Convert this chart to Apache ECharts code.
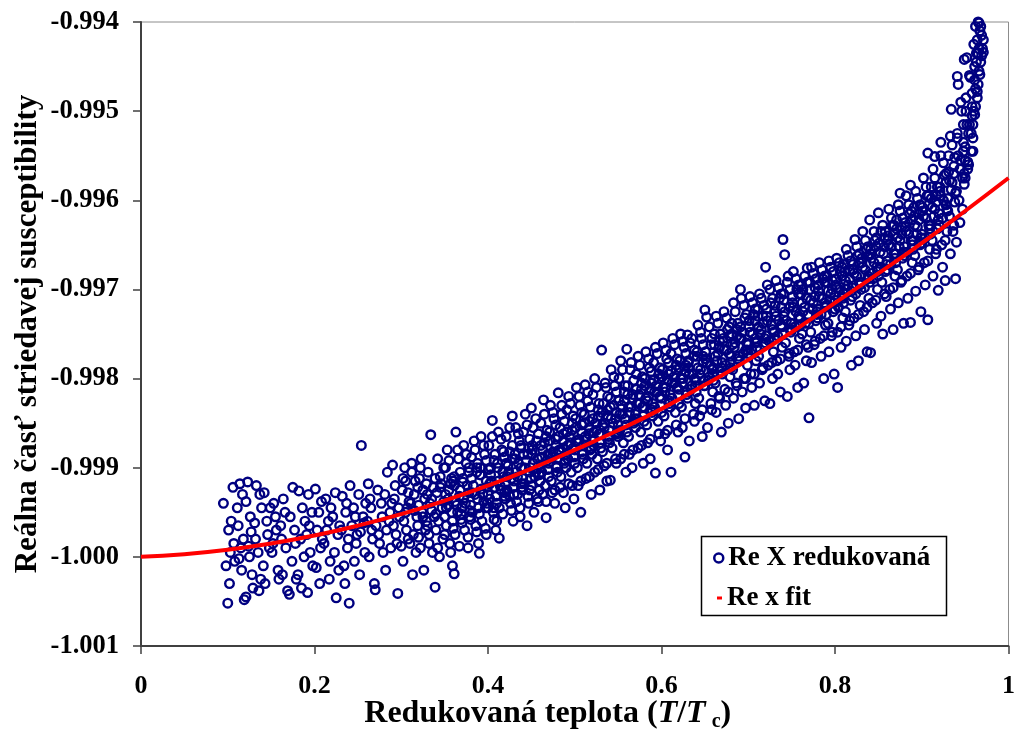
<!DOCTYPE html>
<html>
<head>
<meta charset="utf-8">
<script src="https://cdn.jsdelivr.net/npm/echarts@6/dist/echarts.min.js"></script>
<style>html,body{margin:0;padding:0;background:#fff}#chart{width:1018px;height:747px}</style>
</head>
<body>
<div id="chart"></div>
<script>
// Axis ranges
const xMin = 0, xMax = 1, xStep = 0.2;
const yMin = -1.001, yMax = -0.994, yStep = 0.001;

// Series names
const seriesNames = ['Re X redukovaná', 'Re x fit'];

// Fit curve
const fitX = [0, 0.05, 0.1, 0.15, 0.2, 0.25, 0.3, 0.35, 0.4, 0.45, 0.5, 0.55, 0.6, 0.65, 0.7, 0.75, 0.8, 0.85, 0.9, 0.95, 1.0];
const fitY = [-1.00000, -0.99997, -0.99992, -0.99985, -0.99976, -0.99965, -0.99952, -0.99937, -0.99920, -0.99901, -0.99880, -0.99858, -0.99834, -0.99807, -0.99779, -0.99748, -0.99715, -0.99682, -0.99648, -0.99612, -0.99575];

const reXPoints = [
[0.106,-0.99922],[0.104,-0.99960],[0.101,-0.99970],[0.103,-0.99995],[0.108,-1.00005],[0.102,-1.00030],[0.100,-1.00052],[0.095,-0.99940],[0.107,-0.99985],[0.098,-1.00010],
[0.114,-0.99918],[0.111,-0.99945],[0.118,-0.99980],[0.113,-1.00002],[0.116,-1.00015],[0.119,-1.00048],[0.112,-0.99965],[0.117,-0.99930],[0.115,-0.99990],
[0.123,-0.99916],[0.121,-0.99938],[0.127,-0.99972],[0.125,-1.00000],[0.128,-1.00020],[0.121,-1.00045],[0.126,-0.99955],[0.124,-0.99988],[0.129,-1.00035],
[0.133,-0.99920],[0.137,-0.99930],[0.131,-0.99962],[0.135,-0.99995],[0.138,-1.00025],[0.132,-0.99980],[0.136,-1.00038],[0.139,-0.99945],
[0.142,-0.99928],[0.145,-0.99960],[0.148,-0.99990],[0.141,-1.00010],[0.146,-0.99975],[0.143,-1.00030],[0.149,-0.99945],
[0.153,-0.99940],[0.156,-0.99970],[0.151,-0.99995],[0.158,-1.00015],[0.155,-0.99955],[0.159,-1.00025],[0.152,-0.99985],
[0.164,-0.99935],[0.161,-0.99965],[0.167,-0.99990],[0.163,-1.00020],[0.169,-1.00038],[0.166,-0.99950],[0.162,-0.99980],
[0.175,-0.99922],[0.172,-0.99955],[0.178,-0.99985],[0.174,-1.00005],[0.171,-1.00042],[0.177,-0.99970],[0.179,-1.00025],
[0.182,-0.99926],[0.186,-0.99945],[0.184,-0.99980],[0.188,-1.00000],[0.181,-1.00020],[0.189,-0.99960],[0.185,-1.00035],
[0.193,-0.99930],[0.197,-0.99950],[0.191,-0.99975],[0.195,-0.99995],[0.198,-1.00010],[0.194,-0.99965],[0.192,-1.00040],
[0.201,-0.99924],[0.205,-0.99950],[0.203,-0.99970],[0.207,-0.99990],[0.202,-1.00012],[0.208,-0.99938],[0.206,-1.00030],[0.209,-0.99980],
[0.213,-0.99935],[0.216,-0.99960],[0.211,-0.99985],[0.218,-1.00005],[0.214,-0.99970],[0.217,-1.00025],[0.219,-0.99945],
[0.224,-0.99928],[0.221,-0.99955],[0.227,-0.99975],[0.223,-0.99995],[0.228,-1.00015],[0.225,-1.00046],[0.229,-0.99965],
[0.232,-0.99932],[0.236,-0.99950],[0.231,-0.99970],[0.238,-0.99990],[0.234,-1.00010],[0.239,-0.99980],[0.235,-1.00030],[0.237,-0.99940],
[0.241,-0.99920],[0.245,-0.99945],[0.243,-0.99965],[0.248,-0.99985],[0.246,-1.00005],[0.240,-1.00052],[0.249,-0.99975],[0.247,-0.99955],
[0.254,-0.99875],[0.251,-0.99930],[0.256,-0.99955],[0.253,-0.99972],[0.258,-0.99995],[0.252,-1.00020],[0.257,-0.99962],[0.259,-0.99940],
[0.262,-0.99918],[0.265,-0.99945],[0.261,-0.99960],[0.267,-0.99980],[0.263,-1.00000],[0.269,-1.00030],[0.266,-0.99970],[0.264,-0.99935],
[0.273,-0.99925],[0.277,-0.99940],[0.271,-0.99965],[0.275,-0.99985],[0.270,-1.00037],[0.278,-0.99955],[0.274,-0.99975],[0.279,-0.99995],
[0.284,-0.99905],[0.281,-0.99930],[0.287,-0.99950],[0.283,-0.99970],[0.288,-0.99990],[0.282,-1.00015],[0.286,-0.99960],[0.289,-0.99940],
[0.290,-0.99897],[0.293,-0.99920],[0.297,-0.99945],[0.291,-0.99965],[0.295,-0.99985],[0.296,-1.00041],[0.298,-0.99955],[0.294,-0.99975],[0.292,-0.99935],
[0.304,-0.99900],[0.301,-0.99925],[0.307,-0.99945],[0.303,-0.99960],[0.308,-0.99980],[0.302,-1.00005],[0.306,-0.99970],[0.309,-0.99938],[0.305,-0.99915],
[0.312,-0.99895],[0.316,-0.99915],[0.311,-0.99940],[0.318,-0.99955],[0.314,-0.99975],[0.317,-0.99995],[0.313,-1.00020],[0.319,-0.99965],[0.315,-0.99930],
[0.323,-0.99890],[0.321,-0.99912],[0.327,-0.99935],[0.324,-0.99950],[0.328,-0.99970],[0.322,-0.99990],[0.326,-1.00015],[0.329,-0.99960],[0.325,-0.99925],[0.320,-0.99942],
[0.334,-0.99863],[0.331,-0.99905],[0.337,-0.99922],[0.333,-0.99940],[0.338,-0.99955],[0.332,-0.99975],[0.336,-0.99995],[0.339,-1.00034],[0.335,-0.99948],[0.330,-0.99930],
[0.342,-0.99890],[0.345,-0.99910],[0.341,-0.99928],[0.347,-0.99945],[0.343,-0.99960],[0.348,-0.99980],[0.344,-1.00000],[0.349,-0.99938],[0.346,-0.99918],[0.340,-0.99970],
[0.353,-0.99880],[0.351,-0.99900],[0.357,-0.99918],[0.354,-0.99935],[0.358,-0.99950],[0.352,-0.99965],[0.356,-0.99985],[0.359,-1.00010],[0.355,-0.99925],[0.350,-0.99955],[0.354,-0.99942],
[0.363,-0.99860],[0.366,-0.99890],[0.361,-0.99910],[0.368,-0.99925],[0.364,-0.99942],[0.369,-0.99958],[0.362,-0.99975],[0.361,-1.00019],[0.367,-0.99932],[0.365,-0.99950],[0.360,-0.99915],
[0.372,-0.99875],[0.375,-0.99895],[0.371,-0.99912],[0.378,-0.99928],[0.374,-0.99940],[0.379,-0.99955],[0.373,-0.99970],[0.377,-0.99990],[0.376,-0.99920],[0.370,-0.99945],[0.378,-0.99905],
[0.384,-0.99870],[0.381,-0.99888],[0.387,-0.99905],[0.383,-0.99920],[0.388,-0.99935],[0.382,-0.99950],[0.386,-0.99965],[0.389,-0.99985],[0.385,-0.99930],[0.380,-0.99942],[0.387,-0.99900],
[0.392,-0.99865],[0.396,-0.99885],[0.391,-0.99900],[0.398,-0.99915],[0.394,-0.99930],[0.397,-0.99945],[0.393,-0.99960],[0.390,-0.99996],[0.399,-0.99922],[0.395,-0.99938],[0.391,-0.99908],[0.398,-0.99975],
[0.405,-0.99847],[0.401,-0.99875],[0.407,-0.99892],[0.403,-0.99908],[0.408,-0.99922],[0.402,-0.99935],[0.406,-0.99950],[0.409,-0.99970],[0.404,-0.99915],[0.400,-0.99930],[0.403,-0.99900],[0.407,-0.99945],
[0.412,-0.99860],[0.416,-0.99880],[0.411,-0.99895],[0.418,-0.99910],[0.414,-0.99920],[0.419,-0.99932],[0.413,-0.99945],[0.413,-0.99979],[0.417,-0.99905],[0.415,-0.99925],[0.410,-0.99960],[0.419,-0.99888],
[0.428,-0.99842],[0.421,-0.99865],[0.425,-0.99882],[0.423,-0.99898],[0.427,-0.99912],[0.422,-0.99925],[0.426,-0.99940],[0.429,-0.99960],[0.424,-0.99905],[0.420,-0.99918],[0.428,-0.99890],[0.425,-0.99932],
[0.432,-0.99855],[0.436,-0.99870],[0.431,-0.99885],[0.438,-0.99900],[0.434,-0.99910],[0.439,-0.99922],[0.433,-0.99938],[0.437,-0.99955],[0.435,-0.99895],[0.430,-0.99915],[0.438,-0.99878],[0.434,-0.99930],
[0.443,-0.99840],[0.441,-0.99860],[0.447,-0.99878],[0.444,-0.99892],[0.448,-0.99905],[0.442,-0.99918],[0.446,-0.99932],[0.445,-0.99965],[0.449,-0.99900],[0.440,-0.99912],[0.446,-0.99885],[0.448,-0.99925],
[0.450,-0.99833],[0.452,-0.99855],[0.456,-0.99870],[0.451,-0.99885],[0.458,-0.99898],[0.454,-0.99910],[0.459,-0.99925],[0.453,-0.99950],[0.457,-0.99890],[0.455,-0.99905],[0.451,-0.99875],[0.458,-0.99938],
[0.464,-0.99824],[0.461,-0.99850],[0.467,-0.99865],[0.463,-0.99880],[0.468,-0.99892],[0.462,-0.99905],[0.466,-0.99920],[0.467,-0.99956],[0.469,-0.99885],[0.460,-0.99900],[0.465,-0.99872],[0.463,-0.99930],
[0.472,-0.99830],[0.476,-0.99845],[0.471,-0.99860],[0.478,-0.99875],[0.474,-0.99888],[0.479,-0.99900],[0.473,-0.99915],[0.477,-0.99940],[0.475,-0.99882],[0.470,-0.99895],[0.478,-0.99868],[0.474,-0.99928],
[0.481,-0.99816],[0.485,-0.99840],[0.483,-0.99855],[0.487,-0.99870],[0.482,-0.99882],[0.488,-0.99895],[0.484,-0.99910],[0.489,-0.99945],[0.486,-0.99878],[0.480,-0.99890],[0.487,-0.99862],[0.483,-0.99922],
[0.493,-0.99820],[0.491,-0.99835],[0.497,-0.99850],[0.494,-0.99865],[0.498,-0.99878],[0.492,-0.99890],[0.496,-0.99905],[0.499,-0.99935],[0.495,-0.99872],[0.490,-0.99885],[0.497,-0.99858],[0.493,-0.99918],
[0.502,-0.99810],[0.506,-0.99830],[0.501,-0.99845],[0.508,-0.99860],[0.504,-0.99872],[0.509,-0.99885],[0.503,-0.99900],[0.507,-0.99950],[0.505,-0.99868],[0.500,-0.99880],[0.508,-0.99852],[0.504,-0.99920],
[0.512,-0.99807],[0.515,-0.99825],[0.511,-0.99840],[0.517,-0.99855],[0.513,-0.99868],[0.518,-0.99880],[0.514,-0.99895],[0.519,-0.99930],[0.516,-0.99862],[0.510,-0.99875],[0.517,-0.99848],[0.513,-0.99912],
[0.523,-0.99800],[0.521,-0.99818],[0.527,-0.99835],[0.524,-0.99850],[0.528,-0.99862],[0.522,-0.99875],[0.526,-0.99890],[0.529,-0.99925],[0.525,-0.99858],[0.520,-0.99870],[0.527,-0.99842],[0.523,-0.99905],
[0.531,-0.99768],[0.536,-0.99810],[0.533,-0.99828],[0.538,-0.99842],[0.534,-0.99855],[0.539,-0.99868],[0.532,-0.99882],[0.537,-0.99915],[0.535,-0.99850],[0.530,-0.99862],[0.538,-0.99835],[0.534,-0.99898],
[0.542,-0.99790],[0.546,-0.99808],[0.541,-0.99822],[0.548,-0.99838],[0.544,-0.99850],[0.549,-0.99862],[0.543,-0.99878],[0.541,-0.99914],[0.547,-0.99845],[0.540,-0.99858],[0.545,-0.99830],[0.548,-0.99895],
[0.553,-0.99780],[0.551,-0.99800],[0.557,-0.99815],[0.554,-0.99830],[0.558,-0.99845],[0.552,-0.99858],[0.556,-0.99872],[0.559,-0.99905],[0.555,-0.99840],[0.550,-0.99852],[0.557,-0.99825],[0.553,-0.99890],
[0.560,-0.99767],[0.564,-0.99790],[0.561,-0.99808],[0.567,-0.99822],[0.563,-0.99838],[0.568,-0.99850],[0.562,-0.99865],[0.566,-0.99900],[0.565,-0.99832],[0.569,-0.99845],[0.567,-0.99818],[0.563,-0.99885],
[0.573,-0.99775],[0.571,-0.99795],[0.577,-0.99805],[0.574,-0.99818],[0.578,-0.99832],[0.572,-0.99845],[0.576,-0.99860],[0.579,-0.99895],[0.575,-0.99828],[0.570,-0.99840],[0.577,-0.99812],[0.573,-0.99878],
[0.582,-0.99770],[0.586,-0.99788],[0.581,-0.99800],[0.588,-0.99812],[0.584,-0.99825],[0.589,-0.99838],[0.583,-0.99852],[0.587,-0.99890],[0.585,-0.99820],[0.580,-0.99832],[0.588,-0.99805],[0.584,-0.99872],
[0.593,-0.99765],[0.591,-0.99782],[0.597,-0.99795],[0.594,-0.99808],[0.598,-0.99820],[0.592,-0.99832],[0.596,-0.99848],[0.593,-0.99906],[0.595,-0.99815],[0.590,-0.99828],[0.597,-0.99800],[0.599,-0.99870],
[0.602,-0.99760],[0.606,-0.99778],[0.601,-0.99790],[0.608,-0.99802],[0.604,-0.99815],[0.609,-0.99828],[0.603,-0.99842],[0.607,-0.99880],[0.605,-0.99810],[0.600,-0.99822],[0.608,-0.99795],[0.604,-0.99862],
[0.613,-0.99755],[0.611,-0.99772],[0.617,-0.99785],[0.614,-0.99798],[0.618,-0.99810],[0.612,-0.99822],[0.616,-0.99838],[0.611,-0.99905],[0.615,-0.99805],[0.610,-0.99818],[0.617,-0.99790],[0.619,-0.99860],
[0.622,-0.99750],[0.626,-0.99765],[0.621,-0.99780],[0.628,-0.99792],[0.624,-0.99805],[0.629,-0.99818],[0.623,-0.99832],[0.627,-0.99888],[0.625,-0.99800],[0.620,-0.99812],[0.628,-0.99785],[0.624,-0.99855],
[0.630,-0.99751],[0.633,-0.99760],[0.637,-0.99775],[0.631,-0.99788],[0.638,-0.99800],[0.634,-0.99812],[0.639,-0.99828],[0.632,-0.99870],[0.636,-0.99795],[0.635,-0.99808],[0.631,-0.99780],[0.638,-0.99848],
[0.642,-0.99740],[0.646,-0.99755],[0.641,-0.99770],[0.648,-0.99782],[0.644,-0.99795],[0.649,-0.99808],[0.643,-0.99822],[0.647,-0.99865],[0.645,-0.99790],[0.640,-0.99802],[0.648,-0.99775],[0.644,-0.99842],
[0.650,-0.99723],[0.652,-0.99731],[0.657,-0.99762],[0.651,-0.99778],[0.658,-0.99790],[0.654,-0.99802],[0.659,-0.99815],[0.653,-0.99855],[0.656,-0.99785],[0.655,-0.99798],[0.651,-0.99770],[0.658,-0.99835],
[0.663,-0.99730],[0.661,-0.99750],[0.667,-0.99765],[0.664,-0.99780],[0.668,-0.99792],[0.662,-0.99805],[0.666,-0.99820],[0.669,-0.99860],[0.665,-0.99772],[0.660,-0.99788],[0.667,-0.99758],[0.663,-0.99838],
[0.672,-0.99725],[0.676,-0.99745],[0.671,-0.99758],[0.678,-0.99772],[0.674,-0.99785],[0.679,-0.99798],[0.673,-0.99812],[0.677,-0.99850],[0.675,-0.99768],[0.670,-0.99782],[0.678,-0.99752],[0.674,-0.99830],
[0.683,-0.99715],[0.681,-0.99738],[0.687,-0.99752],[0.684,-0.99765],[0.688,-0.99778],[0.682,-0.99790],[0.686,-0.99805],[0.689,-0.99845],[0.685,-0.99760],[0.680,-0.99775],[0.687,-0.99745],[0.683,-0.99822],
[0.691,-0.99700],[0.692,-0.99710],[0.696,-0.99732],[0.693,-0.99748],[0.698,-0.99760],[0.694,-0.99772],[0.699,-0.99785],[0.695,-0.99800],[0.697,-0.99833],[0.690,-0.99755],[0.697,-0.99768],[0.693,-0.99815],
[0.702,-0.99708],[0.706,-0.99728],[0.701,-0.99742],[0.708,-0.99755],[0.704,-0.99768],[0.709,-0.99780],[0.703,-0.99795],[0.707,-0.99830],[0.705,-0.99750],[0.700,-0.99762],[0.708,-0.99735],[0.704,-0.99810],
[0.713,-0.99705],[0.711,-0.99722],[0.717,-0.99738],[0.714,-0.99750],[0.718,-0.99762],[0.712,-0.99775],[0.716,-0.99790],[0.719,-0.99825],[0.715,-0.99745],[0.710,-0.99758],[0.717,-0.99730],[0.713,-0.99805],
[0.720,-0.99675],[0.722,-0.99695],[0.726,-0.99715],[0.721,-0.99730],[0.728,-0.99745],[0.724,-0.99758],[0.729,-0.99770],[0.723,-0.99785],[0.725,-0.99828],[0.727,-0.99740],[0.721,-0.99752],[0.728,-0.99800],
[0.732,-0.99690],[0.736,-0.99710],[0.731,-0.99725],[0.738,-0.99740],[0.734,-0.99752],[0.739,-0.99765],[0.733,-0.99780],[0.737,-0.99815],[0.735,-0.99735],[0.730,-0.99748],[0.738,-0.99720],[0.734,-0.99795],
[0.740,-0.99644],[0.742,-0.99661],[0.746,-0.99685],[0.741,-0.99705],[0.748,-0.99720],[0.744,-0.99735],[0.749,-0.99748],[0.743,-0.99760],[0.747,-0.99775],[0.745,-0.99820],[0.741,-0.99730],[0.748,-0.99790],
[0.752,-0.99680],[0.756,-0.99700],[0.751,-0.99715],[0.758,-0.99730],[0.754,-0.99742],[0.759,-0.99755],[0.753,-0.99770],[0.757,-0.99810],[0.755,-0.99725],[0.750,-0.99738],[0.758,-0.99705],[0.754,-0.99785],
[0.768,-0.99676],[0.761,-0.99695],[0.767,-0.99710],[0.763,-0.99725],[0.766,-0.99738],[0.762,-0.99750],[0.769,-0.99765],[0.764,-0.99805],[0.765,-0.99720],[0.760,-0.99732],[0.763,-0.99700],[0.767,-0.99780],
[0.773,-0.99675],[0.771,-0.99692],[0.777,-0.99708],[0.774,-0.99722],[0.778,-0.99735],[0.772,-0.99748],[0.776,-0.99762],[0.770,-0.99844],[0.775,-0.99715],[0.779,-0.99728],[0.777,-0.99698],[0.773,-0.99782],
[0.782,-0.99670],[0.786,-0.99688],[0.781,-0.99702],[0.788,-0.99715],[0.784,-0.99728],[0.789,-0.99740],[0.783,-0.99755],[0.787,-0.99800],[0.785,-0.99710],[0.780,-0.99722],[0.788,-0.99692],[0.784,-0.99775],
[0.793,-0.99668],[0.791,-0.99685],[0.797,-0.99700],[0.794,-0.99712],[0.798,-0.99725],[0.792,-0.99738],[0.796,-0.99752],[0.799,-0.99795],[0.795,-0.99705],[0.790,-0.99718],[0.797,-0.99690],[0.793,-0.99770],
[0.802,-0.99665],[0.806,-0.99680],[0.801,-0.99695],[0.808,-0.99708],[0.804,-0.99720],[0.809,-0.99732],[0.803,-0.99748],[0.803,-0.99810],[0.805,-0.99700],[0.800,-0.99712],[0.808,-0.99685],[0.807,-0.99765],
[0.813,-0.99655],[0.811,-0.99672],[0.817,-0.99688],[0.814,-0.99700],[0.818,-0.99712],[0.812,-0.99725],[0.816,-0.99740],[0.819,-0.99785],[0.815,-0.99695],[0.810,-0.99705],[0.817,-0.99678],[0.813,-0.99758],
[0.823,-0.99644],[0.826,-0.99662],[0.821,-0.99678],[0.828,-0.99692],[0.824,-0.99705],[0.829,-0.99718],[0.822,-0.99732],[0.827,-0.99780],[0.825,-0.99685],[0.820,-0.99698],[0.828,-0.99670],[0.824,-0.99752],
[0.832,-0.99635],[0.836,-0.99655],[0.831,-0.99670],[0.838,-0.99685],[0.834,-0.99698],[0.839,-0.99710],[0.833,-0.99725],[0.837,-0.99770],[0.835,-0.99678],[0.830,-0.99692],[0.838,-0.99662],[0.834,-0.99745],
[0.840,-0.99622],[0.846,-0.99645],[0.841,-0.99660],[0.848,-0.99675],[0.844,-0.99688],[0.849,-0.99700],[0.843,-0.99715],[0.841,-0.99771],[0.845,-0.99670],[0.842,-0.99682],[0.847,-0.99652],[0.848,-0.99738],
[0.850,-0.99614],[0.853,-0.99635],[0.857,-0.99652],[0.851,-0.99668],[0.858,-0.99680],[0.854,-0.99692],[0.859,-0.99708],[0.855,-0.99750],[0.856,-0.99660],[0.852,-0.99675],[0.857,-0.99642],[0.853,-0.99730],
[0.862,-0.99610],[0.866,-0.99628],[0.861,-0.99645],[0.868,-0.99660],[0.864,-0.99672],[0.869,-0.99685],[0.863,-0.99700],[0.867,-0.99745],[0.865,-0.99652],[0.860,-0.99668],[0.868,-0.99638],[0.864,-0.99722],
[0.873,-0.99605],[0.871,-0.99622],[0.877,-0.99638],[0.874,-0.99652],[0.878,-0.99665],[0.872,-0.99678],[0.876,-0.99692],[0.879,-0.99738],[0.875,-0.99645],[0.870,-0.99660],[0.877,-0.99630],[0.873,-0.99715],
[0.882,-0.99595],[0.886,-0.99615],[0.881,-0.99630],[0.888,-0.99645],[0.884,-0.99658],[0.889,-0.99670],[0.883,-0.99685],[0.887,-0.99737],[0.885,-0.99638],[0.880,-0.99652],[0.888,-0.99622],[0.884,-0.99710],
[0.893,-0.99590],[0.891,-0.99608],[0.897,-0.99622],[0.894,-0.99638],[0.898,-0.99650],[0.892,-0.99662],[0.896,-0.99678],[0.899,-0.99725],[0.895,-0.99630],[0.890,-0.99645],[0.897,-0.99615],[0.893,-0.99702],
[0.902,-0.99575],[0.906,-0.99595],[0.901,-0.99612],[0.908,-0.99628],[0.904,-0.99642],[0.909,-0.99655],[0.903,-0.99670],[0.907,-0.99734],[0.905,-0.99620],[0.900,-0.99638],[0.908,-0.99605],[0.904,-0.99695],
[0.913,-0.99565],[0.911,-0.99585],[0.917,-0.99602],[0.914,-0.99618],[0.918,-0.99632],[0.912,-0.99645],[0.916,-0.99660],[0.919,-0.99701],[0.915,-0.99610],[0.910,-0.99628],[0.917,-0.99595],[0.913,-0.99685],
[0.922,-0.99550],[0.926,-0.99572],[0.921,-0.99590],[0.928,-0.99605],[0.924,-0.99620],[0.929,-0.99635],[0.923,-0.99650],[0.927,-0.99690],[0.925,-0.99600],[0.920,-0.99615],[0.928,-0.99580],[0.924,-0.99675],
[0.933,-0.99528],[0.931,-0.99550],[0.937,-0.99570],[0.934,-0.99588],[0.938,-0.99602],[0.932,-0.99618],[0.936,-0.99635],[0.939,-0.99688],[0.935,-0.99580],[0.930,-0.99598],[0.937,-0.99562],[0.933,-0.99660],
[0.942,-0.99470],[0.946,-0.99500],[0.941,-0.99525],[0.948,-0.99545],[0.944,-0.99565],[0.949,-0.99582],[0.943,-0.99600],[0.940,-0.99647],[0.945,-0.99555],[0.947,-0.99575],[0.948,-0.99535],[0.944,-0.99625],
[0.952,-0.99440],[0.956,-0.99462],[0.951,-0.99485],[0.958,-0.99505],[0.954,-0.99525],[0.959,-0.99545],[0.953,-0.99565],[0.950,-0.99575],[0.955,-0.99515],[0.950,-0.99540],[0.958,-0.99495],[0.954,-0.99560],
[0.962,-0.99405],[0.960,-0.99425],[0.963,-0.99445],[0.961,-0.99465],[0.964,-0.99485],[0.961,-0.99504],[0.957,-0.99525],[0.953,-0.99557],[0.966,-0.99455],[0.962,-0.99495],[0.965,-0.99435],[0.959,-0.99515],
[0.965,-0.99400],[0.966,-0.99401],[0.968,-0.99405],[0.969,-0.99415],[0.970,-0.99430],[0.968,-0.99445],[0.967,-0.99459],[0.964,-0.99478],[0.971,-0.99420],[0.969,-0.99438],[0.971,-0.99434],[0.967,-0.99410],
// denser part of the cloud
[0.300,-0.99988],[0.305,-0.99950],[0.308,-0.99928],[0.302,-0.99912],
[0.310,-0.99985],[0.315,-0.99948],[0.319,-0.99922],[0.312,-0.99905],
[0.320,-0.99978],[0.325,-0.99955],[0.329,-0.99918],[0.322,-0.99900],
[0.330,-0.99965],[0.335,-0.99935],[0.339,-0.99912],[0.332,-0.99985],
[0.340,-0.99952],[0.345,-0.99922],[0.349,-0.99900],[0.342,-0.99990],
[0.350,-0.99975],[0.352,-0.99945],[0.358,-0.99912],[0.355,-0.99892],[0.359,-0.99960],[0.351,-0.99930],[0.357,-0.99995],
[0.360,-0.99968],[0.362,-0.99938],[0.368,-0.99905],[0.365,-0.99880],[0.369,-0.99952],[0.361,-0.99920],[0.367,-0.99988],
[0.370,-0.99962],[0.372,-0.99934],[0.378,-0.99900],[0.375,-0.99885],[0.379,-0.99948],[0.371,-0.99916],[0.377,-0.99978],
[0.380,-0.99958],[0.382,-0.99928],[0.388,-0.99895],[0.385,-0.99880],[0.389,-0.99945],[0.381,-0.99912],[0.387,-0.99972],
[0.390,-0.99952],[0.392,-0.99924],[0.398,-0.99892],[0.395,-0.99875],[0.399,-0.99940],[0.391,-0.99908],[0.397,-0.99968],
[0.400,-0.99945],[0.402,-0.99918],[0.408,-0.99885],[0.405,-0.99865],[0.409,-0.99932],[0.401,-0.99902],[0.407,-0.99958],
[0.410,-0.99940],[0.412,-0.99915],[0.418,-0.99882],[0.415,-0.99868],[0.419,-0.99928],[0.411,-0.99900],[0.417,-0.99952],
[0.420,-0.99935],[0.422,-0.99910],[0.428,-0.99875],[0.425,-0.99855],[0.429,-0.99922],[0.421,-0.99895],[0.427,-0.99948],
[0.430,-0.99930],[0.432,-0.99905],[0.438,-0.99875],[0.435,-0.99862],[0.439,-0.99918],[0.431,-0.99890],[0.437,-0.99945],
[0.440,-0.99925],[0.442,-0.99900],[0.448,-0.99868],[0.445,-0.99852],[0.449,-0.99912],[0.441,-0.99885],[0.447,-0.99940],
[0.450,-0.99920],[0.452,-0.99895],[0.458,-0.99862],[0.455,-0.99845],[0.459,-0.99908],[0.451,-0.99880],[0.457,-0.99935],
[0.460,-0.99915],[0.462,-0.99888],[0.468,-0.99858],[0.465,-0.99840],[0.469,-0.99902],[0.461,-0.99875],[0.467,-0.99938],
[0.470,-0.99910],[0.472,-0.99885],[0.478,-0.99852],[0.475,-0.99838],[0.479,-0.99898],[0.471,-0.99870],[0.477,-0.99925],
[0.480,-0.99905],[0.482,-0.99880],[0.488,-0.99848],[0.485,-0.99830],[0.489,-0.99892],[0.481,-0.99865],[0.487,-0.99928],
[0.490,-0.99900],[0.492,-0.99875],[0.498,-0.99842],[0.495,-0.99828],[0.499,-0.99888],[0.491,-0.99860],[0.497,-0.99920],
[0.500,-0.99895],[0.502,-0.99870],[0.508,-0.99838],[0.505,-0.99820],[0.509,-0.99882],[0.501,-0.99855],[0.507,-0.99915],
[0.510,-0.99890],[0.512,-0.99865],[0.518,-0.99832],[0.515,-0.99815],[0.519,-0.99878],[0.511,-0.99850],[0.517,-0.99910],
[0.520,-0.99885],[0.522,-0.99860],[0.528,-0.99828],[0.525,-0.99810],[0.529,-0.99872],[0.521,-0.99845],[0.527,-0.99902],
[0.530,-0.99878],[0.532,-0.99852],[0.538,-0.99820],[0.535,-0.99805],[0.539,-0.99865],[0.531,-0.99838],[0.537,-0.99895],
[0.540,-0.99872],[0.542,-0.99845],[0.548,-0.99815],[0.545,-0.99798],[0.549,-0.99860],[0.541,-0.99832],[0.547,-0.99890],
[0.550,-0.99865],[0.552,-0.99840],[0.558,-0.99808],[0.555,-0.99790],[0.559,-0.99852],[0.551,-0.99825],[0.557,-0.99885],
[0.560,-0.99860],[0.562,-0.99832],[0.568,-0.99802],[0.565,-0.99782],[0.569,-0.99848],[0.561,-0.99818],[0.567,-0.99880],
[0.570,-0.99855],[0.572,-0.99828],[0.578,-0.99798],[0.575,-0.99785],[0.579,-0.99842],[0.571,-0.99812],[0.577,-0.99875],
[0.580,-0.99848],[0.582,-0.99822],[0.588,-0.99792],[0.585,-0.99778],[0.589,-0.99835],[0.581,-0.99808],[0.587,-0.99868],
[0.590,-0.99842],[0.592,-0.99815],[0.598,-0.99788],[0.595,-0.99772],[0.599,-0.99830],[0.591,-0.99802],[0.597,-0.99862],
[0.600,-0.99838],[0.602,-0.99810],[0.608,-0.99782],[0.605,-0.99768],[0.609,-0.99825],[0.601,-0.99798],[0.607,-0.99858],
[0.610,-0.99832],[0.612,-0.99805],[0.618,-0.99778],[0.615,-0.99762],[0.619,-0.99818],[0.611,-0.99792],[0.617,-0.99852],
[0.620,-0.99828],[0.622,-0.99800],[0.628,-0.99772],[0.625,-0.99758],[0.629,-0.99815],[0.621,-0.99788],[0.627,-0.99845],
[0.630,-0.99822],[0.632,-0.99795],[0.638,-0.99768],[0.635,-0.99755],[0.639,-0.99808],[0.631,-0.99782],[0.637,-0.99840],
[0.640,-0.99815],[0.642,-0.99788],[0.648,-0.99762],[0.645,-0.99748],[0.649,-0.99802],[0.641,-0.99775],[0.647,-0.99835],
[0.650,-0.99808],[0.652,-0.99782],[0.658,-0.99755],[0.655,-0.99742],[0.659,-0.99795],[0.651,-0.99770],[0.657,-0.99828],
[0.660,-0.99802],[0.662,-0.99775],[0.668,-0.99750],[0.665,-0.99738],[0.669,-0.99788],[0.661,-0.99762],[0.667,-0.99822],
[0.670,-0.99795],[0.672,-0.99768],[0.678,-0.99742],[0.675,-0.99732],[0.679,-0.99782],[0.671,-0.99755],[0.677,-0.99815],
[0.680,-0.99788],[0.682,-0.99762],[0.688,-0.99738],[0.685,-0.99725],[0.689,-0.99775],[0.681,-0.99750],[0.687,-0.99808],
[0.690,-0.99780],[0.692,-0.99755],[0.698,-0.99728],[0.695,-0.99718],[0.699,-0.99768],[0.691,-0.99742],[0.697,-0.99800],
[0.700,-0.99772],[0.702,-0.99748],[0.708,-0.99722],[0.705,-0.99715],[0.709,-0.99760],[0.701,-0.99735],[0.707,-0.99795],
[0.710,-0.99765],[0.712,-0.99742],[0.718,-0.99718],[0.715,-0.99710],[0.719,-0.99755],[0.711,-0.99730],[0.717,-0.99788],
[0.720,-0.99760],[0.722,-0.99735],[0.728,-0.99710],[0.725,-0.99700],[0.729,-0.99748],[0.721,-0.99722],[0.727,-0.99782],
[0.730,-0.99755],[0.732,-0.99730],[0.738,-0.99705],[0.735,-0.99698],[0.739,-0.99742],[0.731,-0.99718],[0.737,-0.99778],
[0.740,-0.99750],[0.742,-0.99725],[0.748,-0.99700],[0.745,-0.99692],[0.749,-0.99738],[0.741,-0.99712],[0.747,-0.99772],
[0.750,-0.99745],[0.752,-0.99720],[0.758,-0.99695],[0.755,-0.99688],[0.759,-0.99732],[0.751,-0.99708],[0.757,-0.99768],
[0.760,-0.99740],[0.762,-0.99715],[0.768,-0.99692],[0.765,-0.99685],[0.769,-0.99728],[0.761,-0.99705],[0.767,-0.99762],
[0.770,-0.99738],[0.772,-0.99712],[0.778,-0.99688],[0.775,-0.99682],[0.779,-0.99725],[0.771,-0.99700],[0.777,-0.99758],
[0.780,-0.99732],[0.782,-0.99708],[0.788,-0.99685],[0.785,-0.99678],[0.789,-0.99720],[0.781,-0.99695],[0.787,-0.99752],
[0.790,-0.99728],[0.792,-0.99702],[0.798,-0.99680],[0.795,-0.99675],[0.799,-0.99715],[0.791,-0.99692],[0.797,-0.99748],
[0.800,-0.99722],[0.802,-0.99698],[0.808,-0.99675],[0.805,-0.99670],[0.809,-0.99710],[0.801,-0.99688],[0.807,-0.99742],
[0.810,-0.99715],[0.812,-0.99690],[0.818,-0.99668],[0.815,-0.99662],[0.819,-0.99702],[0.811,-0.99680],[0.817,-0.99735],
[0.820,-0.99708],[0.822,-0.99682],[0.828,-0.99660],[0.825,-0.99652],[0.829,-0.99695],[0.821,-0.99672],[0.827,-0.99728],
[0.830,-0.99700],[0.832,-0.99675],[0.838,-0.99652],[0.835,-0.99645],[0.839,-0.99688],[0.831,-0.99665],[0.837,-0.99720],
[0.840,-0.99692],[0.842,-0.99665],[0.848,-0.99642],[0.845,-0.99635],[0.849,-0.99680],[0.841,-0.99655],[0.847,-0.99712],
[0.850,-0.99685],[0.852,-0.99658],[0.858,-0.99635],[0.855,-0.99628],[0.859,-0.99672],[0.851,-0.99648],[0.857,-0.99705],
[0.860,-0.99678],[0.862,-0.99650],[0.868,-0.99628],[0.865,-0.99620],[0.869,-0.99665],[0.861,-0.99640],[0.867,-0.99698],
[0.870,-0.99670],[0.872,-0.99642],[0.878,-0.99620],[0.875,-0.99612],[0.879,-0.99658],[0.871,-0.99632],[0.877,-0.99690],
[0.880,-0.99662],[0.882,-0.99635],[0.888,-0.99612],[0.885,-0.99605],[0.889,-0.99650],[0.881,-0.99625],[0.887,-0.99682],
[0.890,-0.99655],[0.892,-0.99628],[0.898,-0.99605],[0.895,-0.99598],[0.899,-0.99642],[0.891,-0.99618],[0.897,-0.99675],
[0.900,-0.99648],[0.902,-0.99618],[0.908,-0.99595],[0.905,-0.99585],[0.909,-0.99632],[0.901,-0.99608],[0.907,-0.99668],
[0.910,-0.99638],[0.912,-0.99608],[0.918,-0.99585],[0.915,-0.99575],[0.919,-0.99622],[0.911,-0.99598],[0.917,-0.99655],
[0.920,-0.99628],[0.922,-0.99595],[0.928,-0.99570],[0.925,-0.99558],[0.929,-0.99610],[0.921,-0.99585],[0.927,-0.99645],
[0.930,-0.99612],[0.932,-0.99578],[0.938,-0.99552],[0.935,-0.99538],[0.939,-0.99592],[0.931,-0.99568],[0.937,-0.99628],
[0.940,-0.99590],[0.942,-0.99550],[0.948,-0.99515],[0.945,-0.99490],[0.949,-0.99570],[0.941,-0.99530],[0.947,-0.99610],
[0.950,-0.99555],[0.952,-0.99515],[0.958,-0.99480],[0.955,-0.99460],[0.959,-0.99530],[0.951,-0.99500],[0.957,-0.99545],
[0.960,-0.99500],[0.962,-0.99475],[0.963,-0.99435],[0.964,-0.99420],[0.961,-0.99450],[0.966,-0.99430],[0.965,-0.99470],
// upper edge of the rising tail
[0.875,-0.99592],[0.887,-0.99583],[0.907,-0.99547],[0.915,-0.99551],[0.922,-0.99535],[0.934,-0.99498],[0.941,-0.99461],[0.949,-0.99442]
];

const FONT = '"Liberation Serif", "Times New Roman", serif';
const fitData = fitX.map((x, i) => [x, fitY[i]]);

const chart = echarts.init(document.getElementById('chart'), null, {renderer: 'canvas'});
chart.setOption({
  animation: false,
  backgroundColor: '#ffffff',
  grid: {left: 141, top: 22, right: 8, bottom: 101, show: true, borderColor: '#8c8c8c', borderWidth: 1, backgroundColor: 'transparent'},
  xAxis: {
    type: 'value', min: xMin, max: xMax, interval: xStep,
    name: 'Redukovaná teplota ({it|T}/{it|T}{sub|c})',
    nameLocation: 'middle', nameGap: 50, nameMoveOverlap: false,
    nameTextStyle: {
      fontFamily: FONT, fontWeight: 'bold', fontSize: 32, color: '#000', lineHeight: 36,
      padding: [0, 54, 0, 0],
      rich: {
        it: {fontFamily: FONT, fontWeight: 'bold', fontStyle: 'italic', fontSize: 32, color: '#000', lineHeight: 36},
        sub: {fontFamily: FONT, fontWeight: 'bold', fontSize: 20, color: '#000', lineHeight: 20, verticalAlign: 'bottom', padding: [0, 0, 0, 6]}
      }
    },
    axisLine: {show: true, onZero: false, lineStyle: {color: '#404040', width: 2}},
    axisTick: {show: true, inside: false, length: 8, lineStyle: {color: '#404040', width: 1.5}},
    axisLabel: {margin: 27, fontFamily: FONT, fontWeight: 'bold', fontSize: 26, color: '#000'},
    splitLine: {show: false}
  },
  yAxis: {
    type: 'value', min: yMin, max: yMax, interval: yStep,
    name: 'Reálna časť striedavej susceptibility',
    nameLocation: 'middle', nameGap: 98, nameMoveOverlap: false,
    nameTextStyle: {fontFamily: FONT, fontWeight: 'bold', fontSize: 31, color: '#000'},
    axisLine: {show: true, onZero: false, lineStyle: {color: '#404040', width: 2}},
    axisTick: {show: true, inside: false, length: 8, lineStyle: {color: '#404040', width: 1.5}},
    axisLabel: {margin: 22, fontFamily: FONT, fontWeight: 'bold', fontSize: 26.5, color: '#000',
      formatter: v => v.toFixed(3)},
    splitLine: {show: false}
  },
  legend: [
    {
      data: [{name: seriesNames[0], icon: 'circle', itemStyle: {color: '#ffffff', borderColor: '#000080', borderWidth: 2.5}}],
      left: 713, top: 543, padding: 0, itemWidth: 9, itemHeight: 9, itemGap: 0, itemTextGap: 13,
      orient: 'vertical', selectedMode: false,
      textStyle: {fontFamily: FONT, fontWeight: 'bold', fontSize: 27, color: '#000', lineHeight: 30}
    },
    {
      data: [{name: seriesNames[1], icon: 'rect', itemStyle: {color: '#ff0000'}}],
      left: 717, top: 583, padding: 0, itemWidth: 5, itemHeight: 3, itemGap: 0, itemTextGap: 13,
      orient: 'vertical', selectedMode: false,
      textStyle: {fontFamily: FONT, fontWeight: 'bold', fontSize: 27, color: '#000', lineHeight: 30}
    }
  ],
  graphic: [{
    type: 'rect', z: 3, silent: true,
    shape: {x: 701.5, y: 536.5, width: 245, height: 79},
    style: {fill: '#ffffff', stroke: '#000000', lineWidth: 1.5}
  }],
  series: [
    {
      name: seriesNames[0], type: 'scatter', data: reXPoints, clip: false, large: false,
      symbol: 'circle', symbolSize: 8.6, z: 2,
      itemStyle: {color: 'rgba(255,255,255,0)', borderColor: '#000080', borderWidth: 2.4, opacity: 1},
      emphasis: {disabled: true}
    },
    {
      name: seriesNames[1], type: 'line', data: fitData, smooth: true, symbol: 'none', z: 3,
      lineStyle: {color: '#ff0000', width: 4},
      itemStyle: {color: '#ff0000'},
      emphasis: {disabled: true}
    }
  ]
});
</script>
</body>
</html>
